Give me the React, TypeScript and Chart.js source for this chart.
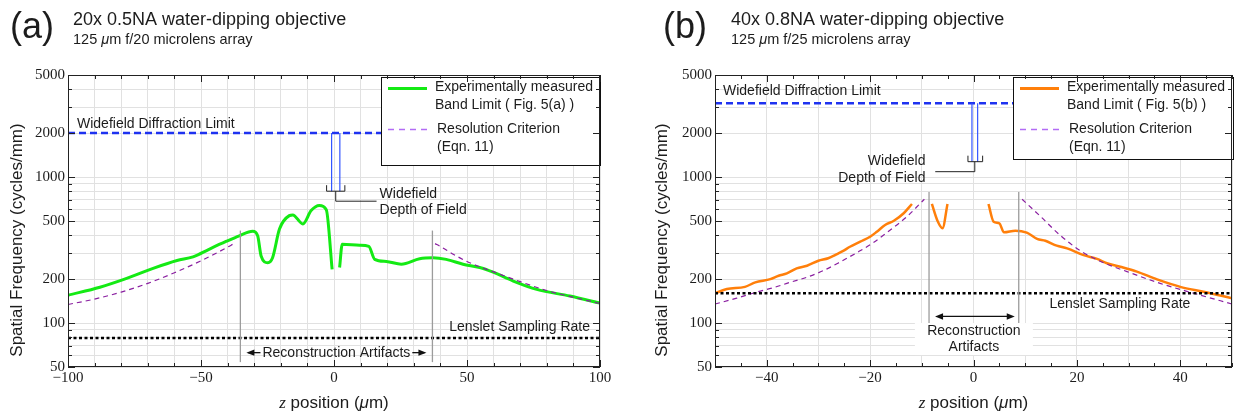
import React, { useEffect, useRef } from "react";
import { Chart, registerables } from "chart.js";

Chart.register(...registerables);

const SANS = '"Liberation Sans", Arial, Helvetica, sans-serif';
const SERIF = '"Liberation Serif", "Times New Roman", Times, serif';

// ===== Panel (a): 20x 0.5NA water-dipping objective, 125 µm f/20 =====
const zA_meas1 = [-100, -88, -79, -68, -59, -53, -47, -40.6, -35.6, -30.6, -28.7, -27.4, -24.9, -23.1, -20.5, -16.8, -15.5, -11.7, -8.6, -5.5, -2.9, -0.7];
const bandA_meas1 = [155, 176, 199, 237, 268, 284, 320, 362, 396, 425, 396, 288, 259, 280, 440, 544, 550, 477, 589, 638, 598, 233];
const zA_meas2 = [2.1, 3.1, 9.6, 13.1, 15.3, 19.7, 25.3, 32.2, 37.2, 42.2, 48.5, 54.8, 59.8, 67.4, 76.2, 88.7, 100];
const bandA_meas2 = [240, 347, 341, 335, 273, 264, 253, 276, 280, 273, 253, 240, 223, 194, 170, 153, 137];
const zA_critL = [-100, -90, -80, -70, -60, -50, -40, -38];
const critA_L = [134, 146, 163, 187, 221, 267, 331, 347];
const zA_critR = [38, 40, 45, 50, 55, 60, 70, 80, 90, 100];
const critA_R = [350, 335, 295, 264, 242, 224, 192, 167, 150, 136];
const diffLimitA = 2000;
const lensletA = 79;
const dofA = [-0.9, 2.2];
const artifactA = [-35.2, 37];
const xRangeA = [-100, 100];
const xLabelsA = [-100, -50, 0, 50, 100];

// ===== Panel (b): 40x 0.8NA water-dipping objective, 125 µm f/25 =====
const zB_meas1 = [-50, -47.7, -44.2, -42.2, -39.3, -37.7, -36.1, -34.2, -32.2, -30, -28.1, -26.4, -25.2, -23.9, -21.9, -20, -18.7, -17.1, -15.4, -13.5, -11.9];
const bandB_meas1 = [160, 171, 177, 190, 200, 211, 219, 237, 247, 267, 278, 297, 312, 333, 361, 390, 422, 470, 502, 565, 654];
const zB_meas2 = [-8.05, -6.97, -6.0, -5.03];
const bandB_meas2 = [654, 502, 446, 654];
const zB_meas3 = [2.9, 3.9, 5.0, 5.9, 8.1, 10.3, 12.3, 13.9, 16.1, 18.1, 21.3, 23.9, 25.8, 28.4, 31.6, 35.5, 40, 44.5, 50];
const bandB_meas3 = [654, 494, 482, 418, 429, 416, 377, 366, 339, 325, 292, 275, 257, 243, 225, 199, 177, 164, 148];
const zB_critL = [-50, -45.8, -41.9, -38.6, -35.5, -32.2, -29, -25.8, -22.6, -19.4, -16.1, -12.9, -9.5];
const critB_L = [135, 148, 163, 175, 190, 206, 229, 262, 303, 355, 434, 535, 705];
const zB_critR = [9.4, 12.9, 16.8, 20.6, 24.5, 29.7, 36.1, 42.6, 50];
const critB_R = [705, 540, 398, 314, 265, 225, 187, 160, 135];
const diffLimitB = 3200;
const lensletB = 160;
const dofB = [-0.3, 0.8];
const artifactB = [-8.6, 8.75];
const xRangeB = [-50, 50];
const xLabelsB = [-40, -20, 0, 20, 40];

// ===== shared axis ticks =====
const yTickLabels = [50, 100, 200, 500, 1000, 2000, 5000];
const yMinorTicks = [60, 70, 80, 90, 300, 400, 600, 700, 800, 900, 3000, 4000];
const yGridValues = [50, 60, 70, 80, 90, 100, 200, 300, 400, 500, 600, 700, 800, 900, 1000, 2000, 3000, 4000, 5000];

const GREEN = "#14ea14";
const ORANGE = "#ff7f0a";
const PURPLE = "#8a1fa0";
const PURPLE_LEG = "#b26cf5";
const BLUE = "#1e32f0";
const TEXT = "#1c1c1c";

const H = 415;

function pts(zs: number[], vs: number[]) {
  return zs.map((x, i) => ({ x, y: vs[i] }));
}

function fmt(v: number) {
  return v < 0 ? "\u2212" + Math.abs(v) : String(v);
}

function seg(ctx: CanvasRenderingContext2D, x1: number, y1: number, x2: number, y2: number) {
  ctx.beginPath();
  ctx.moveTo(x1, y1);
  ctx.lineTo(x2, y2);
  ctx.stroke();
}

function txt(ctx: CanvasRenderingContext2D, s: string, x: number, y: number, font: string, align: CanvasTextAlign = "left", color = TEXT) {
  ctx.font = font;
  ctx.fillStyle = color;
  ctx.textAlign = align;
  ctx.textBaseline = "middle";
  ctx.fillText(s, x, y);
}

function rich(ctx: CanvasRenderingContext2D, parts: [string, string][], x: number, y: number, align: "left" | "center" | "right", baseline: CanvasTextBaseline = "alphabetic") {
  const widths = parts.map(([t, f]) => {
    ctx.font = f;
    return ctx.measureText(t).width;
  });
  const total = widths.reduce((a, b) => a + b, 0);
  let cx = align === "left" ? x : align === "center" ? x - total / 2 : x - total;
  ctx.textAlign = "left";
  ctx.textBaseline = baseline;
  ctx.fillStyle = TEXT;
  parts.forEach(([t, f], i) => {
    ctx.font = f;
    ctx.fillText(t, cx, y);
    cx += widths[i];
  });
  return total;
}

function arrowHead(ctx: CanvasRenderingContext2D, xTip: number, y: number, dir: number) {
  ctx.beginPath();
  ctx.moveTo(xTip, y);
  ctx.lineTo(xTip - dir * 8, y - 3.2);
  ctx.lineTo(xTip - dir * 8, y + 3.2);
  ctx.closePath();
  ctx.fill();
}

function drawFrame(chart: any, xLabels: number[], xMinorStep: number) {
  const ctx: CanvasRenderingContext2D = chart.ctx;
  const a = chart.chartArea;
  const xs = chart.scales.x;
  const ys = chart.scales.y;
  ctx.save();
  ctx.strokeStyle = "#222";
  ctx.lineWidth = 1;
  ctx.setLineDash([]);
  ctx.strokeRect(a.left + 0.5, a.top + 0.5, a.right - a.left - 1, a.bottom - a.top - 1);
  // x ticks
  const n = Math.round((xs.max - xs.min) / xMinorStep);
  for (let i = 0; i <= n; i++) {
    const v = xs.min + i * xMinorStep;
    const px = Math.round(xs.getPixelForValue(v)) + 0.5;
    const len = xLabels.includes(v) ? 7 : 4;
    seg(ctx, px, a.bottom, px, a.bottom - len);
    seg(ctx, px, a.top, px, a.top + len);
  }
  // y ticks
  const yAll = yTickLabels.map((v) => [v, 7]).concat(yMinorTicks.map((v) => [v, 4]));
  yAll.forEach(([v, len]) => {
    const py = Math.round(ys.getPixelForValue(v)) + 0.5;
    seg(ctx, a.left, py, a.left + len, py);
    seg(ctx, a.right, py, a.right - len, py);
  });
  // labels
  xLabels.forEach((v) => {
    txt(ctx, fmt(v), xs.getPixelForValue(v), a.bottom + 11, `15px ${SERIF}`, "center");
  });
  yTickLabels.forEach((v) => {
    txt(ctx, String(v), a.left - 3, ys.getPixelForValue(v), `15px ${SERIF}`, "right");
  });
  ctx.restore();
}

function drawLegend(ctx: CanvasRenderingContext2D, left: number, top: number, right: number, bottom: number, color: string, label2: string) {
  ctx.save();
  ctx.fillStyle = "#fff";
  ctx.fillRect(left, top, right - left, bottom - top);
  ctx.strokeStyle = "#111";
  ctx.lineWidth = 1;
  ctx.setLineDash([]);
  ctx.strokeRect(Math.round(left) + 0.5, Math.round(top) + 0.5, right - left, bottom - top);
  ctx.strokeStyle = color;
  ctx.lineWidth = 3;
  seg(ctx, left + 7, top + 11.5, left + 46, top + 11.5);
  ctx.strokeStyle = PURPLE_LEG;
  ctx.lineWidth = 1.5;
  ctx.setLineDash([6, 5]);
  seg(ctx, left + 7, top + 52.5, left + 46, top + 52.5);
  ctx.setLineDash([]);
  const f = `14px ${SANS}`;
  txt(ctx, "Experimentally measured", left + 54, top + 10, f);
  txt(ctx, label2, left + 54, top + 28, f);
  txt(ctx, "Resolution Criterion", left + 56, top + 52, f);
  txt(ctx, "(Eqn. 11)", left + 56, top + 70, f);
  ctx.restore();
}

function drawTitles(ctx: CanvasRenderingContext2D, letter: string, lx: number, tx: number, line1: string, fnum: string, yTitleX: number, xTitleX: number) {
  ctx.save();
  ctx.fillStyle = TEXT;
  ctx.font = `36px ${SANS}`;
  ctx.textAlign = "left";
  ctx.textBaseline = "alphabetic";
  ctx.fillText(letter, lx, 38);
  ctx.font = `18px ${SANS}`;
  ctx.fillText(line1, tx, 25);
  rich(ctx, [["125 ", `14.5px ${SANS}`], ["\u03bc", `italic 14.5px ${SANS}`], [`m f/${fnum} microlens array`, `14.5px ${SANS}`]], tx, 44, "left");
  // y-axis title
  ctx.save();
  ctx.translate(yTitleX, 240);
  ctx.rotate(-Math.PI / 2);
  ctx.font = `17px ${SANS}`;
  ctx.textAlign = "center";
  ctx.textBaseline = "middle";
  ctx.fillStyle = TEXT;
  ctx.fillText("Spatial Frequency (cycles/mm)", 0, 0);
  ctx.restore();
  // x-axis title
  rich(ctx, [["z", `italic 17px ${SERIF}`], [" position (", `17px ${SANS}`], ["\u03bc", `italic 17px ${SANS}`], ["m)", `17px ${SANS}`]], xTitleX, 408, "center");
  ctx.restore();
}

const decorA = {
  id: "decorA",
  afterDraw(chart: any) {
    const ctx: CanvasRenderingContext2D = chart.ctx;
    const a = chart.chartArea;
    const X = (v: number) => chart.scales.x.getPixelForValue(v);
    const Y = (v: number) => chart.scales.y.getPixelForValue(v);
    ctx.save();
    // reconstruction-artifact boundaries
    ctx.strokeStyle = "#9c9c9c";
    ctx.lineWidth = 1.3;
    const gl = X(artifactA[0]);
    const gr = X(artifactA[1]);
    seg(ctx, gl, Y(430), gl, Y(54));
    seg(ctx, gr, Y(430), gr, Y(54));
    const midY = Y(62.7);
    const tw = rich(ctx, [["Reconstruction Artifacts", `14px ${SANS}`]], (gl + gr) / 2, midY, "center", "middle");
    ctx.strokeStyle = "#111";
    ctx.fillStyle = "#111";
    ctx.lineWidth = 1.3;
    const tl = (gl + gr) / 2 - tw / 2 - 2;
    const tr = (gl + gr) / 2 + tw / 2 + 2;
    seg(ctx, tl, midY, gl + 8, midY);
    arrowHead(ctx, gl + 6, midY, -1);
    seg(ctx, tr, midY, gr - 8, midY);
    arrowHead(ctx, gr - 6, midY, 1);
    // diffraction limit label
    txt(ctx, "Widefield Diffraction Limit", a.left + 9, Y(diffLimitA) - 9, `14px ${SANS}`);
    // lenslet label
    txt(ctx, "Lenslet Sampling Rate", a.right - 10, Y(lensletA) - 10.5, `14px ${SANS}`, "right");
    // depth of field bracket
    const d1 = X(dofA[0]);
    const d2 = X(dofA[1]);
    const yb = Y(800);
    ctx.strokeStyle = "#3355ff";
    ctx.lineWidth = 1.2;
    seg(ctx, d1, Y(diffLimitA), d1, yb);
    seg(ctx, d2, Y(diffLimitA), d2, yb);
    ctx.strokeStyle = "#222";
    ctx.lineWidth = 1;
    ctx.beginPath();
    ctx.moveTo(d1 - 5, yb - 6);
    ctx.lineTo(d1 - 5, yb);
    ctx.lineTo(d2 + 5, yb);
    ctx.lineTo(d2 + 5, yb - 6);
    ctx.stroke();
    const cx = (d1 + d2) / 2;
    const stemEnd = X(16);
    ctx.beginPath();
    ctx.moveTo(cx, yb);
    ctx.lineTo(cx, yb + 10);
    ctx.lineTo(stemEnd, yb + 10);
    ctx.stroke();
    txt(ctx, "Widefield", stemEnd + 3, yb + 2.5, `14px ${SANS}`);
    txt(ctx, "Depth of Field", stemEnd + 3, yb + 19, `14px ${SANS}`);
    ctx.restore();
    drawLegend(ctx, a.right - 219, a.top + 2, a.right, a.top + 90, GREEN, "Band Limit ( Fig. 5(a) )");
    drawFrame(chart, xLabelsA, 10);
    drawTitles(ctx, "(a)", 10, 73, "20x 0.5NA water-dipping objective", "20", 17.5, X(0));
  },
};

const decorB = {
  id: "decorB",
  afterDraw(chart: any) {
    const ctx: CanvasRenderingContext2D = chart.ctx;
    const a = chart.chartArea;
    const X = (v: number) => chart.scales.x.getPixelForValue(v);
    const Y = (v: number) => chart.scales.y.getPixelForValue(v);
    ctx.save();
    // reconstruction-artifact boundaries
    ctx.strokeStyle = "#9c9c9c";
    ctx.lineWidth = 1.3;
    const gl = X(artifactB[0]);
    const gr = X(artifactB[1]);
    seg(ctx, gl, Y(790), gl, Y(100));
    seg(ctx, gr, Y(790), gr, Y(100));
    const ay = Y(100) - 6.6;
    ctx.strokeStyle = "#111";
    ctx.fillStyle = "#111";
    ctx.lineWidth = 1.3;
    seg(ctx, gl + 10, ay, gr - 8, ay);
    arrowHead(ctx, gl + 6, ay, -1);
    arrowHead(ctx, gr - 4, ay, 1);
    const mid = (gl + gr) / 2;
    ctx.fillStyle = "#fff";
    ctx.fillRect(mid - 59, Y(100), 118, 32);
    txt(ctx, "Reconstruction", mid, Y(100) + 8, `14px ${SANS}`, "center");
    txt(ctx, "Artifacts", mid, Y(100) + 24.5, `14px ${SANS}`, "center");
    // labels
    txt(ctx, "Widefield Diffraction Limit", a.left + 8, Y(diffLimitB) - 12, `14px ${SANS}`);
    txt(ctx, "Lenslet Sampling Rate", X(14.7), Y(lensletB) + 10.7, `14px ${SANS}`);
    // depth of field bracket
    const d1 = X(dofB[0]);
    const d2 = X(dofB[1]);
    const yb = Y(1379) + 5;
    ctx.strokeStyle = "#3355ff";
    ctx.lineWidth = 1.2;
    seg(ctx, d1, Y(diffLimitB), d1, yb);
    seg(ctx, d2, Y(diffLimitB), d2, yb);
    ctx.strokeStyle = "#222";
    ctx.lineWidth = 1;
    ctx.beginPath();
    ctx.moveTo(d1 - 4, yb - 6);
    ctx.lineTo(d1 - 4, yb);
    ctx.lineTo(d2 + 5, yb);
    ctx.lineTo(d2 + 5, yb - 6);
    ctx.stroke();
    const cx = (d1 + d2) / 2;
    const stemEnd = X(-7.4);
    ctx.beginPath();
    ctx.moveTo(cx, yb);
    ctx.lineTo(cx, yb + 10);
    ctx.lineTo(stemEnd, yb + 10);
    ctx.stroke();
    txt(ctx, "Widefield", X(-9.3), yb - 0.3, `14px ${SANS}`, "right");
    txt(ctx, "Depth of Field", X(-9.3), yb + 16.3, `14px ${SANS}`, "right");
    ctx.restore();
    drawLegend(ctx, a.right - 219, a.top + 2, a.right + 1, a.top + 84, ORANGE, "Band Limit ( Fig. 5(b) )");
    drawFrame(chart, xLabelsB, 5);
    drawTitles(ctx, "(b)", 45, 113, "40x 0.8NA water-dipping objective", "25", 44.5, X(0));
  },
};

function makeChart(canvas: HTMLCanvasElement, cfg: any) {
  return new Chart(canvas, {
    type: "line",
    data: { datasets: cfg.datasets },
    options: {
      responsive: false,
      animation: false,
      devicePixelRatio: 1,
      layout: { padding: { left: 0, top: cfg.area.top, right: cfg.width - cfg.area.right, bottom: 0 } },
      plugins: { legend: { display: false }, tooltip: { enabled: false }, title: { display: false } },
      elements: { point: { radius: 0 } },
      scales: {
        x: {
          type: "linear",
          min: cfg.xRange[0],
          max: cfg.xRange[1],
          ticks: { display: false, stepSize: 10 },
          grid: { color: "#e1e1e1", lineWidth: 1, drawTicks: false },
          border: { display: false },
          afterFit: (s: any) => {
            s.height = H - cfg.area.bottom;
          },
        },
        y: {
          type: "logarithmic",
          min: 50,
          max: 5000,
          ticks: { display: false },
          afterBuildTicks: (s: any) => {
            s.ticks = yGridValues.map((v) => ({ value: v }));
          },
          grid: { color: "#e1e1e1", lineWidth: 1, drawTicks: false },
          border: { display: false },
          afterFit: (s: any) => {
            s.width = cfg.area.left;
          },
        },
      },
    } as any,
    plugins: [cfg.plugin],
  });
}

function refLine(xr: number[], v: number, color: string, width: number, dash: number[]) {
  return { data: pts(xr, [v, v]), borderColor: color, borderWidth: width, borderDash: dash, pointRadius: 0, fill: false };
}

function curve(zs: number[], vs: number[], color: string, width: number, dash: number[] = []) {
  return { data: pts(zs, vs), borderColor: color, borderWidth: width, borderDash: dash, pointRadius: 0, fill: false, cubicInterpolationMode: "monotone" };
}

const panelA = {
  width: 618,
  area: { left: 68, right: 600, top: 75, bottom: 367 },
  xRange: xRangeA,
  plugin: decorA,
  datasets: [
    refLine(xRangeA, diffLimitA, BLUE, 2.5, [7, 4]),
    refLine(xRangeA, lensletA, "#000", 2.3, [3, 2.5]),
    curve(zA_critL, critA_L, PURPLE, 1.2, [5, 4]),
    curve(zA_critR, critA_R, PURPLE, 1.2, [5, 4]),
    curve(zA_meas1, bandA_meas1, GREEN, 3),
    curve(zA_meas2, bandA_meas2, GREEN, 3),
  ],
};

const panelB = {
  width: 619,
  area: { left: 97, right: 614, top: 75, bottom: 367 },
  xRange: xRangeB,
  plugin: decorB,
  datasets: [
    refLine(xRangeB, diffLimitB, BLUE, 2.5, [7, 4]),
    refLine(xRangeB, lensletB, "#000", 2.3, [3, 2.5]),
    curve(zB_critL, critB_L, PURPLE, 1.2, [5, 4]),
    curve(zB_critR, critB_R, PURPLE, 1.2, [5, 4]),
    curve(zB_meas1, bandB_meas1, ORANGE, 2.5),
    curve(zB_meas2, bandB_meas2, ORANGE, 2.5),
    curve(zB_meas3, bandB_meas3, ORANGE, 2.5),
  ],
};

export default function App() {
  const refA = useRef<HTMLCanvasElement>(null);
  const refB = useRef<HTMLCanvasElement>(null);
  useEffect(() => {
    const cA = makeChart(refA.current!, panelA);
    const cB = makeChart(refB.current!, panelB);
    return () => {
      cA.destroy();
      cB.destroy();
    };
  }, []);
  return (
    <div style={{ position: "absolute", left: 0, top: 0, width: 1237, height: 415, background: "#fff" }}>
      <canvas ref={refA} width={618} height={415} style={{ position: "absolute", left: 0, top: 0, width: 618, height: 415 }} />
      <canvas ref={refB} width={619} height={415} style={{ position: "absolute", left: 618, top: 0, width: 619, height: 415 }} />
    </div>
  );
}
